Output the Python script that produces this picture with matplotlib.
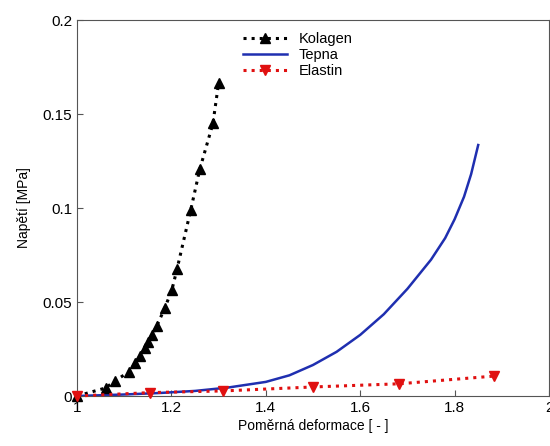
import numpy as np
from matplotlib import pyplot as plt

plt.rcParams['font.family'] = ['Liberation Sans', 'DejaVu Sans']

# Kolagen (collagen) - black dotted with up triangles
kol_x = [1.0, 1.061, 1.08, 1.11, 1.123, 1.134, 1.144, 1.15, 1.159, 1.169, 1.186,
         1.201, 1.212, 1.241, 1.26, 1.288, 1.30]
kol_y = [0.0, 0.0043, 0.008, 0.0128, 0.0175, 0.0213, 0.0255, 0.0287, 0.0324, 0.0372,
         0.0468, 0.0564, 0.0676, 0.099, 0.1205, 0.145, 0.1665]

# Tepna (artery) - blue solid
tep_x = [1.0, 1.1, 1.175, 1.25, 1.32, 1.40, 1.45, 1.50, 1.55, 1.60, 1.65, 1.70,
         1.75, 1.78, 1.80, 1.82, 1.835, 1.85]
tep_y = [0.0, 0.0008, 0.0016, 0.0027, 0.0045, 0.0075, 0.011, 0.0165, 0.0235,
         0.0325, 0.0435, 0.057, 0.0725, 0.084, 0.094, 0.106, 0.118, 0.1335]

# Elastin - red dotted with down triangles
ela_x = [1.0, 1.155, 1.31, 1.50, 1.683, 1.884]
ela_y = [0.0, 0.0018, 0.0027, 0.0048, 0.0065, 0.0106]

fig = plt.figure(figsize=(5.5, 4.46), dpi=100)
ax = fig.add_axes([77/550, 50/446, 472/550, 376/446])

ax.plot(tep_x, tep_y, color='#1f2fb0', linestyle='-', linewidth=1.8, label='Tepna',
        zorder=2)
ax.plot(kol_x, kol_y, color='black', linestyle=':', linewidth=2.2,
        marker='^', markersize=6.5, label='Kolagen', clip_on=False, zorder=3)
ax.plot(ela_x, ela_y, color='#e01010', linestyle=':', linewidth=2.2,
        marker='v', markersize=6.5, label='Elastin', clip_on=False, zorder=4)

ax.set_xlim(1, 2)
ax.set_ylim(0, 0.2)
ax.set_xticks([1, 1.2, 1.4, 1.6, 1.8, 2])
ax.set_xticklabels(['1', '1.2', '1.4', '1.6', '1.8', '2'])
ax.set_yticks([0, 0.05, 0.1, 0.15, 0.2])
ax.set_yticklabels(['0', '0.05', '0.1', '0.15', '0.2'])
ax.tick_params(direction='in', length=4, labelsize=11, color='#555555')
for s in ax.spines.values():
    s.set_color('#555555')

ax.set_xlabel('Poměrná deformace [ - ]', fontsize=10, labelpad=3)
ax.set_ylabel('Napětí [MPa]', fontsize=10, labelpad=8)

handles, labels = ax.get_legend_handles_labels()
order = [1, 0, 2]
ax.legend([handles[i] for i in order], [labels[i] for i in order],
          loc='upper left', bbox_to_anchor=(0.33, 0.995), frameon=False,
          fontsize=10.5, handlelength=3, labelspacing=0.15, borderaxespad=0.3)

fig.savefig('out.png', dpi=100)
